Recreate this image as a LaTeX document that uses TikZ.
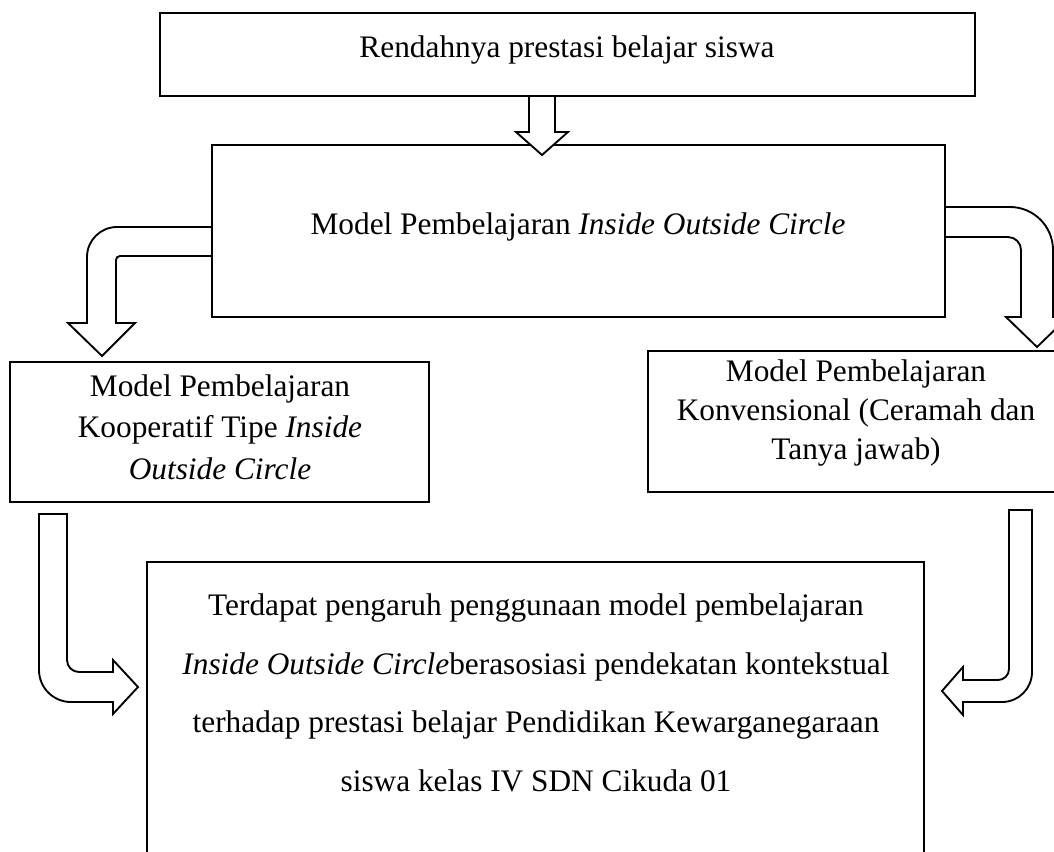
\documentclass[tikz,border=0pt]{standalone}
\usepackage{fontspec}
\setmainfont{Liberation Serif}
\usetikzlibrary{fit}
\tikzset{
  box/.style={draw, line width=1.5pt, inner sep=0pt},
  blk/.style={draw, line width=1.4pt, fill=white, line join=miter},
  txt/.style={anchor=base, inner sep=0pt, font=\fontsize{23.5}{28}\selectfont},
}
\begin{document}
\begin{tikzpicture}[x=0.75pt,y=-0.75pt]
\useasboundingbox (0,0) rectangle (1054,851);
\clip (0,0) rectangle (1054,851);
% boxes
\node[box, fit={(160,13) (975,96)}] (b1) {};
\node[box, fit={(212,145) (945,317)}] (b2) {};
\node[box, fit={(10,362) (429,502)}] (b3) {};
\node[box, fit={(648,351) (1075,492)}] (b4) {};
\node[box, fit={(147,562) (924,880)}] (b5) {};
% texts
\node[txt] (t1) at (567,57) {Rendahnya prestasi belajar siswa};
\node[txt] (t2) at (578,234) {Model Pembelajaran \textit{Inside Outside Circle}};
\node[txt] (t3a) at (220,396) {Model Pembelajaran};
\node[txt] (t3b) at (220,437) {Kooperatif Tipe \textit{Inside}};
\node[txt] (t3c) at (220,479) {\textit{Outside Circle}};
\node[txt] (t4a) at (856,381) {Model Pembelajaran};
\node[txt] (t4b) at (856,420) {Konvensional (Ceramah dan};
\node[txt] (t4c) at (856,459) {Tanya jawab)};
\node[txt] (t5a) at (536,615) {Terdapat pengaruh penggunaan model pembelajaran};
\node[txt] (t5b) at (536,674) {\textit{Inside Outside Circle}berasosiasi pendekatan kontekstual};
\node[txt] (t5c) at (536,732) {terhadap prestasi belajar Pendidikan Kewarganegaraan};
\node[txt] (t5d) at (536,791) {siswa kelas IV SDN Cikuda 01};
% block arrows
% top: b1 -> b2
\draw[blk] (529,96) -- (529,132) -- (516,132) -- (542,155) -- (568,132)
  -- (555,132) -- (555,96) -- cycle;
% left curved: b2 -> b3
\draw[blk] (212,227) -- (117,227) .. controls (100.4,227) and (87,240.4) .. (87,257)
  -- (87,323) -- (68,323) -- (102,356) -- (135,323) -- (116,323) -- (116,260)
  .. controls (116,257.8) and (117.8,256) .. (120,256) -- (212,256) -- cycle;
% right curved: b2 -> b4
\draw[blk] (945,207) -- (1010,207) .. controls (1033.7,207) and (1053,226.3) .. (1053,250)
  -- (1053,317) -- (1068,317) -- (1037,347) -- (1006,317) -- (1021,317) -- (1021,250)
  .. controls (1021,242.8) and (1015.2,237) .. (1008,237) -- (945,237) -- cycle;
% lower-left: b3 -> b5
\draw[blk] (39,514) -- (39,670) .. controls (39,687.7) and (53.3,702) .. (71,702)
  -- (113,702) -- (113,714) -- (138,687) -- (113,660) -- (113,672) -- (79,672)
  .. controls (72.4,672) and (67,666.6) .. (67,660) -- (67,514) -- cycle;
% lower-right: b4 -> b5
\draw[blk] (1009,510) -- (1009,669) .. controls (1009,675.1) and (1004.1,680) .. (998,680)
  -- (963,680) -- (963,667) -- (942,691) -- (963,715) -- (963,702)
  -- (1002,702) .. controls (1018.6,702) and (1032,688.6) .. (1032,672) -- (1032,510) -- cycle;
\end{tikzpicture}
\end{document}
